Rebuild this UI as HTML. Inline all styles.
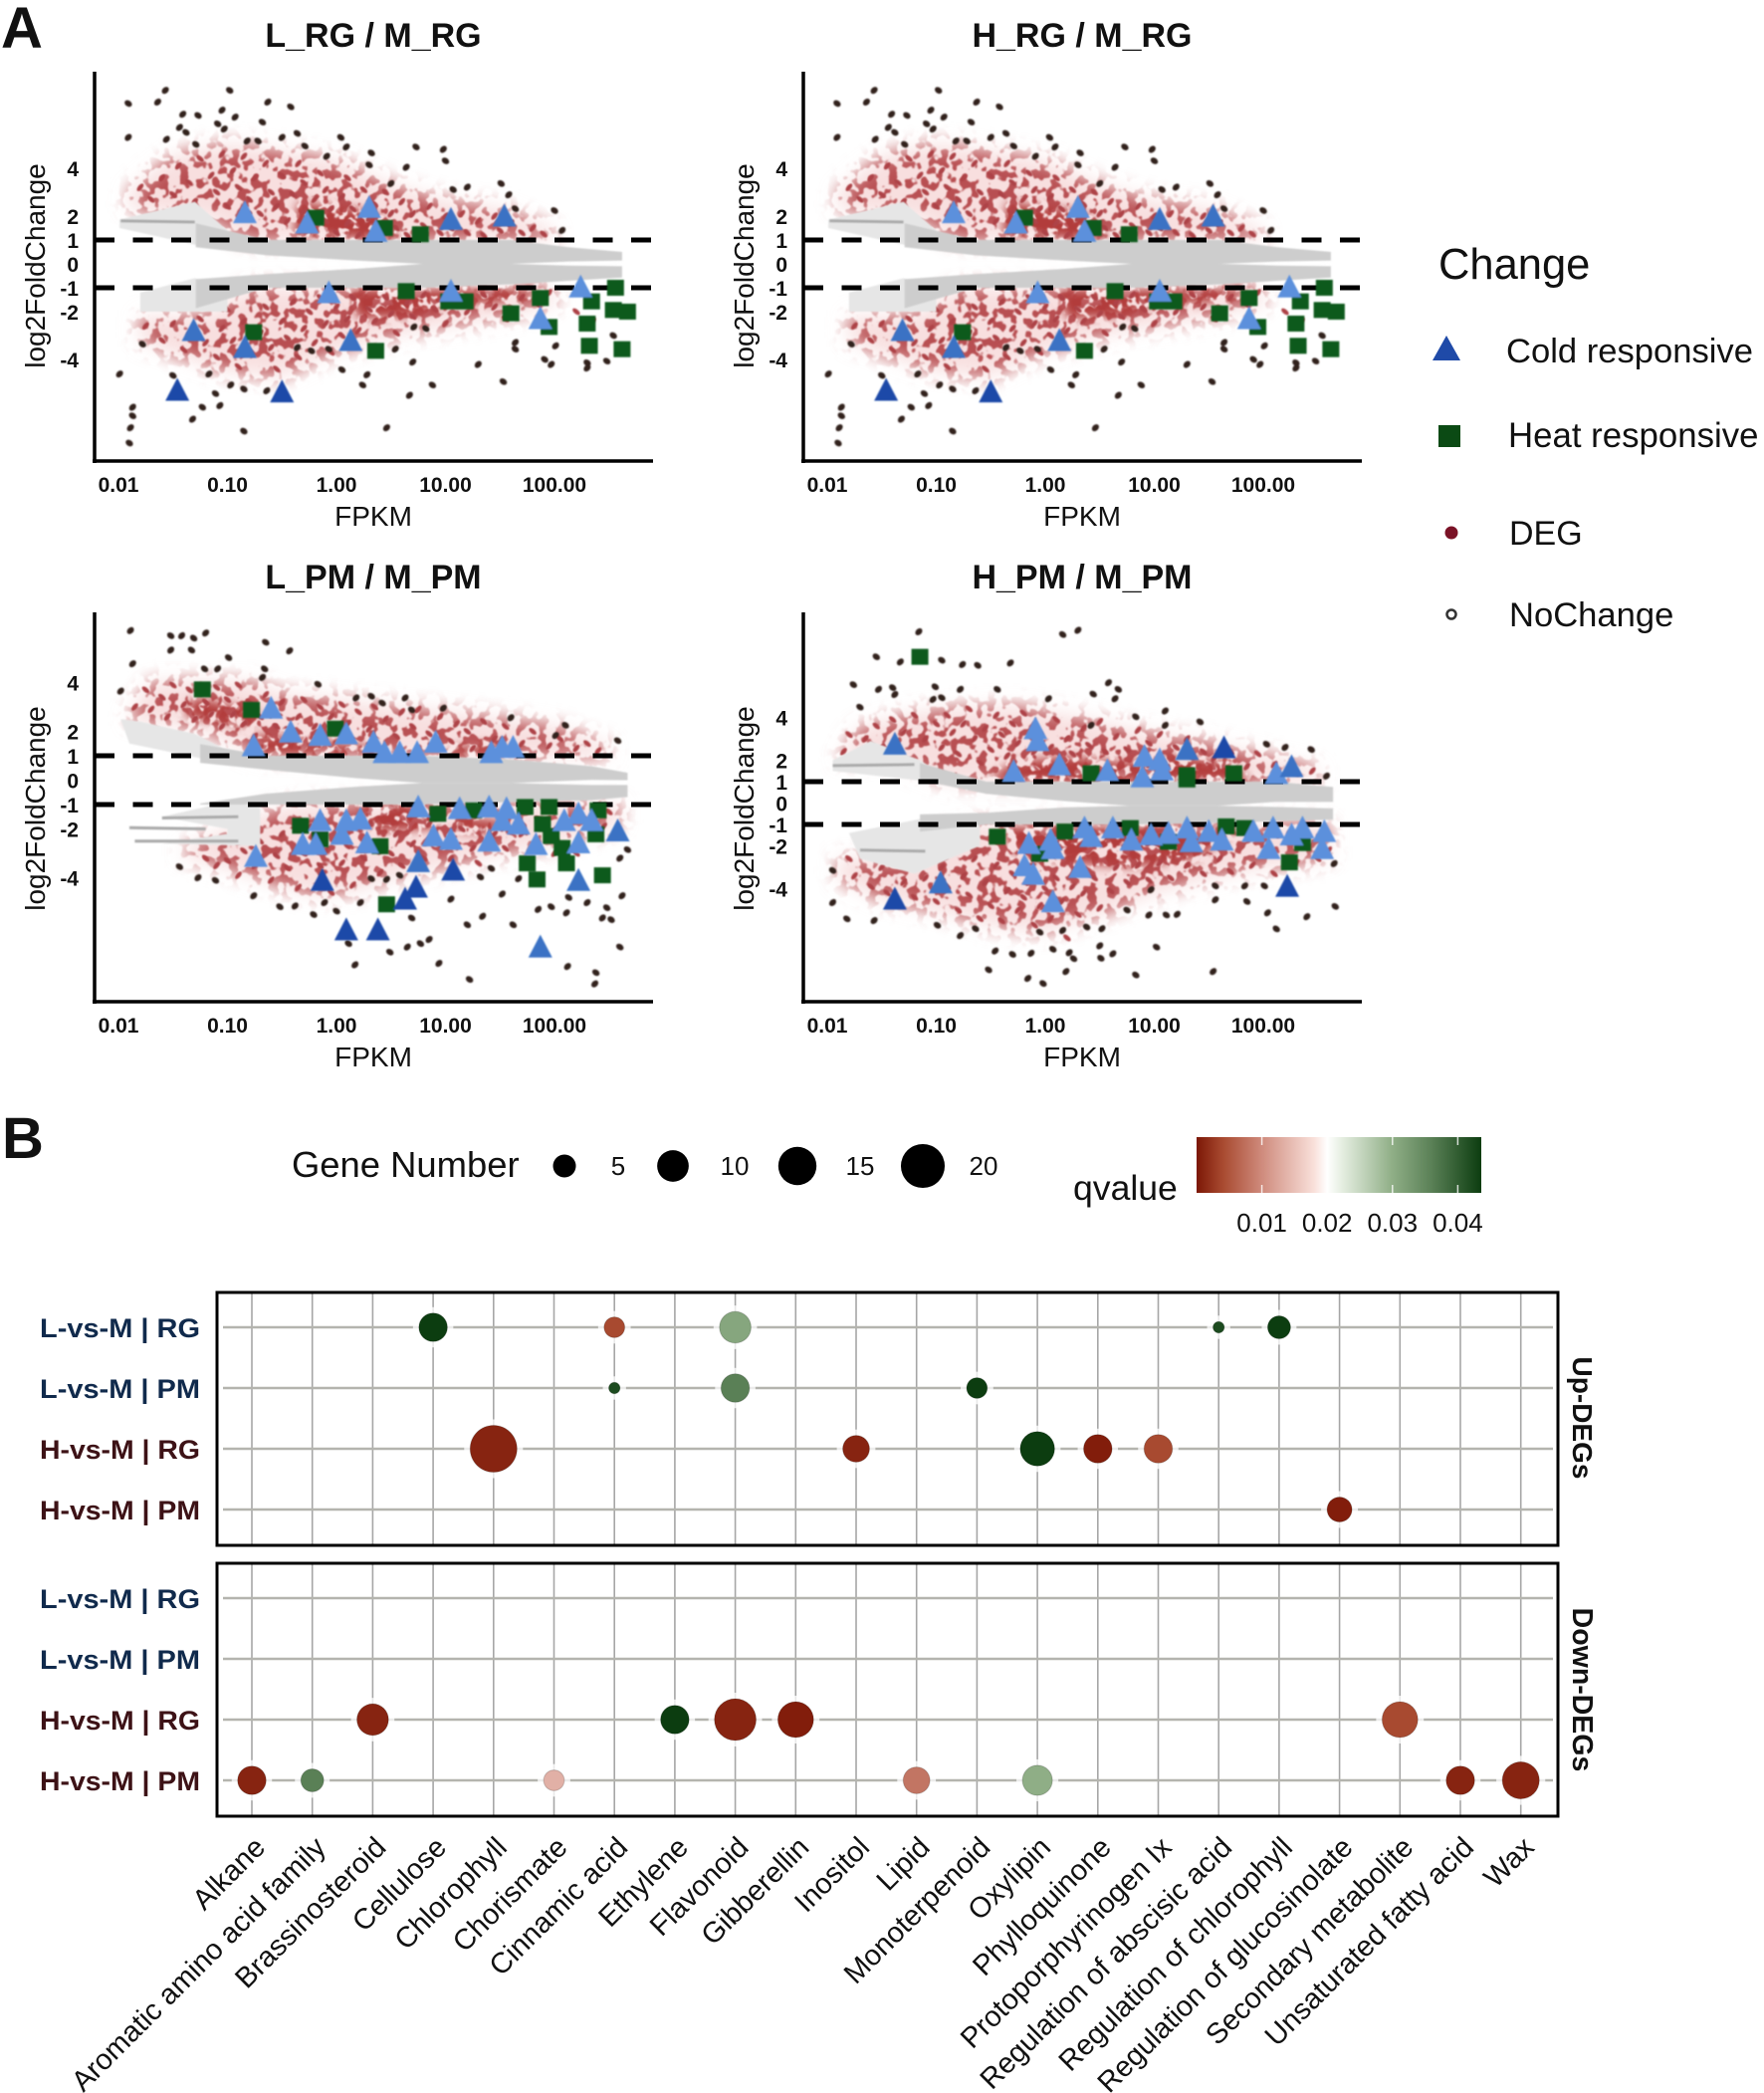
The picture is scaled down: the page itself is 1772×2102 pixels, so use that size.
<!DOCTYPE html>
<html lang="en">
<head>
<meta charset="utf-8">
<title>MA plots and pathway enrichment bubble chart</title>
<style>
html,body{margin:0;padding:0;background:#fff}
svg{display:block;font-family:"Liberation Sans",sans-serif}
text{fill:#111}
</style>
</head>
<body>
<svg id="fig" xmlns="http://www.w3.org/2000/svg" width="1772" height="2102" viewBox="0 0 1772 2102">
<defs>
<filter id="soft" filterUnits="userSpaceOnUse" x="0" y="0" width="1772" height="2102"><feGaussianBlur stdDeviation="0.8"/></filter>
<filter id="hazeBlur" x="-15%" y="-25%" width="130%" height="150%"><feGaussianBlur stdDeviation="9"/></filter>
<filter id="worms" color-interpolation-filters="sRGB" x="-10%" y="-20%" width="120%" height="140%">
<feTurbulence type="fractalNoise" baseFrequency="0.1" numOctaves="2" seed="7" result="n"/>
<feColorMatrix in="n" type="matrix" values="0 0 0 0 0  0 0 0 0 0  0 0 0 0 0  0 0 0 18 -9.3" result="mask"/>
<feGaussianBlur in="SourceGraphic" stdDeviation="10" result="fade"/>
<feComposite in="fade" in2="mask" operator="in" result="cut"/>
<feGaussianBlur in="cut" stdDeviation="0.9"/>
</filter>
<filter id="wormsDense" color-interpolation-filters="sRGB" x="-10%" y="-20%" width="120%" height="140%">
<feTurbulence type="fractalNoise" baseFrequency="0.1" numOctaves="2" seed="11" result="n"/>
<feColorMatrix in="n" type="matrix" values="0 0 0 0 0  0 0 0 0 0  0 0 0 0 0  0 0 0 18 -7.9" result="mask"/>
<feGaussianBlur in="SourceGraphic" stdDeviation="5" result="fade"/>
<feComposite in="fade" in2="mask" operator="in" result="cut"/>
<feGaussianBlur in="cut" stdDeviation="0.9"/>
</filter>
<linearGradient id="qGrad" x1="0" x2="1" y1="0" y2="0"></linearGradient>
</defs>
<rect width="1772" height="2102" fill="#fff"/>
<text x="1" y="48" font-size="58" font-weight="700">A</text>
<text x="2" y="1163" font-size="58" font-weight="700">B</text>

<g id="maPlots"></g>

<g font-size="34" font-weight="700" text-anchor="middle">
<text x="375" y="47">L_RG / M_RG</text>
<text x="1087" y="47">H_RG / M_RG</text>
<text x="375" y="591">L_PM / M_PM</text>
<text x="1087" y="591">H_PM / M_PM</text>
</g>
<g font-size="28" text-anchor="middle">
<text x="375" y="528">FPKM</text>
<text x="1087" y="528">FPKM</text>
<text x="375" y="1071">FPKM</text>
<text x="1087" y="1071">FPKM</text>
<text transform="translate(45 267) rotate(-90)">log2FoldChange</text>
<text transform="translate(757 267) rotate(-90)">log2FoldChange</text>
<text transform="translate(45 812) rotate(-90)">log2FoldChange</text>
<text transform="translate(757 812) rotate(-90)">log2FoldChange</text>
</g>

<g>
<text x="1445" y="280" font-size="43.5">Change</text>
<polygon points="1453,337 1467,362 1439,362" fill="#1f4aa8"/>
<text x="1513" y="364" font-size="34.6">Cold responsive</text>
<rect x="1445" y="427" width="22" height="22" fill="#0b4a14"/>
<text x="1515" y="449" font-size="34.8">Heat responsive</text>
<circle cx="1458" cy="535" r="6.5" fill="#7a1226"/>
<text x="1516" y="547" font-size="34">DEG</text>
<circle cx="1458" cy="617" r="4.5" fill="#fff" stroke="#333" stroke-width="2.5"/>
<text x="1516" y="629" font-size="34.6">NoChange</text>
</g>

<g>
<text x="293" y="1182" font-size="36.4">Gene Number</text>
<g id="sizeLegend" font-size="26" text-anchor="middle"></g>
</g>

<g>
<text x="1078" y="1205" font-size="35.6">qvalue</text>
<rect x="1202" y="1142" width="286" height="56" fill="url(#qGrad)"/>
<g id="qTicks" font-size="26" text-anchor="middle"></g>
</g>

<g id="bubbles"></g>

<text transform="translate(1580 1424) rotate(90)" font-size="28" font-weight="700" text-anchor="middle">Up-DEGs</text>
<text transform="translate(1580 1697) rotate(90)" font-size="28.5" font-weight="700" text-anchor="middle">Down-DEGs</text>
</svg>

<script>
/* ---------- MA plot axis labels ---------- */
const xTickLogs = [-2,-1,0,1,2];
const xTickLabels = ['0.01','0.10','1.00','10.00','100.00'];
const yTickValues = [4,2,1,0,-1,-2,-4];
const yTickLabels = ['4','2','1','0','-1','-2','-4'];
const thresholds = [1,-1];

/* ---------- data: [log10 FPKM, log2FC] ---------- */
/* RG panels */
const rgBandX = [-1.29,-0.64,0.18,0.79,1.6,2.13,2.62];
const rgUpTop = [1.7,1,1,1,1,0.7,0.5];
const rgUpBottom = [0.7,0.36,0.14,0,0,0.1,0.14];
const rgLowTop = [-0.64,-0.43,-0.21,0,0,-0.07,-0.1];
const rgLowBottom = [-1.86,-1,-1,-1,-0.86,-0.71,-0.57];
const rgWedges = [[[-1.99,1.85],[-1.3,2.6],[-1,1.4],[-1,1],[-1.3,0.8],[-1.99,1.5]],[[-1.8,-1.2],[-1.3,-0.6],[-1,-1],[-1,-2],[-1.3,-2],[-1.8,-2]]];
const rgStreaks = [[[-1.98,1.8],[-1.3,1.75]]];
const rgHaze = [[[-1.9,3],[-1.5,4.5],[-1,5],[-0.5,4.7],[0,4.3],[0.5,3.3],[1,2.6],[1.5,2.3],[2,1.4],[2,1],[-0.8,1],[-1.2,2],[-1.9,2.3]],[[-1.8,-3.2],[-1.4,-3.9],[-1,-4.5],[-0.5,-4.7],[-0.1,-3.8],[0.5,-3],[1,-2.6],[1.5,-2.2],[2,-1.7],[2,-1],[-0.8,-1],[-1.2,-2.2],[-1.8,-2.2]]];
const rgCore = [[[-0.4,1.2],[-0.35,2.6],[0,2.4],[0.35,2.2],[0.6,1]],[[0.1,-1.05],[1.9,-1.05],[1.7,-1.6],[1,-1.7],[0.7,-2.2],[0.2,-2.3]]];
const rgDegs = [[-1.8,3.2],[-1.7,2.7],[-1.6,3.6],[-1.5,2.9],[-1.45,4.1],[-1.35,3.4],[-1.3,2.6],[-1.25,4.4],[-1.15,3.7],[-1.1,3],[-1.05,4.6],[-1,2.4],[-0.95,3.9],[-0.9,3.2],[-0.85,4.5],[-0.8,2.7],[-0.75,3.6],[-0.7,2.1],[-0.65,4.2],[-0.6,3],[-0.55,2.4],[-0.5,3.7],[-0.45,1.8],[-0.4,2.9],[-0.35,4.2],[-0.3,3.4],[-0.3,2.2],[-0.25,1.5],[-0.2,2.7],[-0.15,3.8],[-0.1,3.1],[-0.1,1.8],[-0.05,2.3],[0,1.3],[0.05,2.8],[0.1,3.6],[0.1,1.7],[0.15,2.3],[0.2,1.2],[0.25,3.1],[0.3,1.9],[0.35,2.5],[0.4,1.3],[0.45,3],[0.5,2.1],[0.55,1.5],[0.6,2.6],[0.65,1.2],[0.7,2.1],[0.8,1.6],[0.85,2.4],[0.95,1.3],[1,2],[1.05,1.5],[1.15,2.1],[1.2,1.3],[1.3,1.8],[1.35,1.2],[1.45,2],[1.5,1.4],[1.6,1.7],[1.7,1.3],[1.8,1.5],[1.9,1.25],
[-1.75,-2.6],[-1.6,-3.2],[-1.5,-2.5],[-1.4,-3.6],[-1.35,-2.9],[-1.25,-2.3],[-1.2,-3.3],[-1.1,-3.9],[-1.05,-2.7],[-1,-1.9],[-0.95,-3.2],[-0.9,-4.3],[-0.85,-2.4],[-0.8,-3.7],[-0.7,-2.9],[-0.65,-1.8],[-0.6,-3.5],[-0.55,-4.4],[-0.5,-2.4],[-0.45,-3.1],[-0.4,-1.6],[-0.35,-3.9],[-0.3,-2.7],[-0.25,-2],[-0.2,-3.3],[-0.15,-1.4],[-0.1,-2.5],[-0.05,-3.7],[0,-1.8],[0.05,-3],[0.1,-2.3],[0.15,-1.4],[0.2,-2.8],[0.3,-1.9],[0.35,-2.4],[0.45,-1.4],[0.5,-2.1],[0.55,-2.9],[0.65,-1.6],[0.7,-2.2],[0.8,-1.3],[0.9,-1.9],[1,-2.5],[1.1,-1.5],[1.2,-2],[1.35,-1.3],[1.45,-1.8],[1.55,-2.3],[1.7,-1.4],[1.85,-1.7],[1.95,-1.2],[2.2,-2],[2.35,-2.4]];
const rgOutliers = [[-1.57,7.26],[-1.91,6.71],[-1.64,6.77],[-0.98,7.26],[-0.63,6.77],[-0.42,6.57],[-1.41,6.26],[-1.27,6.21],[-1.05,6.43],[-1.09,5.86],[-0.93,6.14],[-0.68,5.93],[-1.44,5.71],[-1.38,5.5],[-1.03,5.64],[-0.36,5.46],[-1.91,5.29],[0.04,5.29],[-1.56,5.21],[-1.29,5],[-0.82,5.14],[-0.72,5.14],[-0.5,5.29],[-0.29,4.93],[0.09,4.89],[0.73,4.89],[0.98,4.79],[1,4.31],[-0.09,4.5],[0.32,4.64],[0.64,4.04],[0.3,4.14],[0.5,3.36],[1.07,3.11],[1.2,3.21],[1.51,3.36],[1.58,2.89],[2,2.23],[2.07,1.4],[1.64,2.31],
[-1.99,-4.61],[-1.5,-4.67],[-1.17,-4.61],[-1.78,-3.36],[-1.87,-6],[-1.87,-6.36],[-1.89,-6.86],[-1.9,-7.5],[-0.97,-5.07],[-0.85,-5.24],[-0.64,-5.31],[-1.11,-5.43],[-1.07,-5.93],[-1.23,-6],[-1.32,-6.5],[-0.85,-7],[0.46,-6.86],[0.05,-4.43],[0.28,-4.64],[0.24,-5.07],[0.67,-5.5],[0.88,-5.07],[0.7,-4.11],[1.53,-4.93],[1.3,-4.21],[1.91,-4],[1.97,-4.21],[2.3,-4.14],[2.3,-4.36],[2.48,-4.07],[1.64,-3.29],[1.64,-3.57],[2.01,-3.43],[2.54,-3],[0.54,-3.57],[0.82,-2.71],[0.71,-2.64],[-0.23,-3.64],[-0.36,-3.5],[-0.07,-3.57]];
const rgHeat = [[-0.19,1.93],[0.44,1.5],[0.77,1.24],[0.64,-1.14],[1.87,-1.43],[2.56,-1],[2.34,-1.57],[1.03,-1.57],[1.18,-1.57],[1.6,-2.07],[1.95,-2.64],[2.54,-1.93],[2.67,-2],[2.3,-2.5],[2.32,-3.43],[2.62,-3.57],[0.36,-3.64],[-0.76,-2.86]];
const rgColdLight = [[-0.84,2.14],[-0.27,1.71],[0.3,2.36],[0.36,1.36],[-0.07,-1.21],[1.05,-1.14],[2.24,-0.97],[1.87,-2.29]];
const rgColdMid = [[1.05,1.86],[-1.31,-2.79],[-0.84,-3.5],[0.13,-3.21],[1.54,2]];
const rgColdDark = [[-1.46,-5.29],[-0.5,-5.36]];

/* L_PM panel */
const lpmBandX = [-1.25,-0.64,0.18,0.79,1.6,2.34,2.67];
const lpmUpTop = [1.48,1,1,1,0.85,0.57,0.3];
const lpmUpBottom = [0.71,0.43,0.08,-0.12,-0.12,0.01,0];
const lpmLowTop = [-0.96,-0.55,-0.27,-0.12,-0.12,-0.2,-0.2];
const lpmLowBottom = [-1,-1,-1,-1,-0.9,-0.83,-0.69];
const lpmWedges = [[[-1.98,2.5],[-1.8,2.4],[-1.3,1.9],[-0.9,1],[-1.25,0.9],[-1.9,1.5]],[[-1.6,-1.5],[-1,-0.9],[-0.7,-1.1],[-0.7,-2.7],[-1.6,-2.6],[-1,-2.2],[-1,-2]]];
const lpmStreaks = [[[-1.9,-1.95],[-1.2,-2]],[[-1.85,-2.5],[-0.9,-2.5]],[[-1.6,-1.55],[-0.9,-1.5]]];
const lpmHaze = [[[-1.9,2.6],[-1.7,4],[-1.2,4],[-0.8,4],[-0.5,3.5],[0,3.3],[0.5,3],[1,2.8],[1.5,2.5],[2,2.2],[2.5,1.4],[2.5,1],[-0.7,1],[-1.3,2.2],[-1.9,2.4]],[[-1.4,-3.1],[-1,-3.6],[-0.6,-4.2],[-0.2,-4.7],[0.2,-4.5],[0.5,-4],[1,-3.5],[1.5,-3],[2,-2.6],[2.6,-1.8],[2.6,-1],[-0.4,-1],[-0.8,-1.6],[-1.4,-2.8]]];
const lpmCore = [[[-0.75,1.9],[-0.3,1.7],[0.3,1.4],[0.5,1],[-0.7,1]],[[0.2,-1],[1,-1],[0.9,-2],[0.4,-2.1],[0.25,-1.6]],[[1.1,-1.5],[1.6,-1.7],[1.4,-2.2],[1.1,-2.1]],[[1,1],[1.6,1],[1.5,1.5],[1.1,1.4]],[[-1.4,2.6],[-0.8,2.2],[-0.7,2.8],[-1.3,3.4]]];
const lpmDegs = [[-1.85,3],[-1.75,3.7],[-1.7,2.9],[-1.6,3.4],[-1.55,2.6],[-1.5,3.9],[-1.4,3.1],[-1.35,3.7],[-1.3,2.5],[-1.2,3.2],[-1.15,2.7],[-1.1,3.8],[-1.05,2.2],[-1,3.3],[-0.95,2.7],[-0.9,3.9],[-0.85,2.3],[-0.8,3.2],[-0.75,1.8],[-0.7,2.6],[-0.65,3.5],[-0.55,2.2],[-0.5,3.2],[-0.45,1.6],[-0.35,2.6],[-0.3,3.3],[-0.2,2.2],[-0.15,3],[-0.05,2.6],[0.05,3.1],[0.1,2.3],[0.2,2.8],[0.3,2.1],[0.35,3],[0.45,2.5],[0.55,1.8],[0.6,2.8],[0.7,2.2],[0.75,2.9],[0.85,1.9],[0.95,2.6],[1.05,1.6],[1.1,2.3],[1.2,2],[1.25,1.3],[1.35,2.4],[1.45,1.7],[1.55,2.2],[1.7,1.5],[1.8,2],[1.95,1.4],[2.05,1.7],[2.2,1.3],[2.3,1.5],[2.4,1.2],
[-1.2,-3.2],[-1.1,-3.5],[-1,-3.3],[-0.9,-3.9],[-0.85,-2.9],[-0.75,-3.5],[-0.7,-2.5],[-0.6,-4.1],[-0.55,-3.1],[-0.5,-2.2],[-0.45,-3.6],[-0.35,-4.4],[-0.3,-3],[-0.25,-1.9],[-0.15,-3.5],[-0.1,-2.9],[-0.05,-4.6],[0.05,-3.4],[0.1,-2.7],[0.15,-4.3],[0.25,-3.2],[0.3,-1.8],[0.35,-2.6],[0.4,-3.8],[0.5,-3],[0.55,-2.2],[0.6,-3.5],[0.7,-2.6],[0.8,-3.2],[0.85,-1.8],[0.95,-2.7],[1.05,-3.2],[1.15,-2],[1.25,-2.8],[1.3,-3.4],[1.45,-2.2],[1.55,-2.8],[1.7,-2.2],[1.85,-1.6],[2,-3],[2.2,-3],[2.45,-1.9],[2.5,-1.3]];
const lpmOutliers = [[-1.89,6.13],[-1.52,5.92],[-1.42,5.92],[-1.31,5.82],[-1.2,6.03],[-0.65,5.65],[-0.43,5.3],[-1.33,5.33],[-1.52,5.33],[-0.99,5.02],[-1.87,4.77],[-0.66,4.56],[-1.09,4.56],[-1.21,4.56],[-0.68,4.21],[-0.17,3.93],[0.18,3.37],[0.32,3.44],[0.63,3.37],[0.42,3.16],[0.98,2.95],[0.69,2.88],[1.6,2.56],[2.1,2.25],[2.01,1.83],[2.58,1.62],[-1.98,3.65],
[-1.44,-3.55],[-1.27,-4],[-1.11,-4.11],[-0.76,-4.74],[-0.52,-5.19],[-0.38,-5.16],[-0.21,-5.51],[-0.11,-5.02],[0,-5.37],[0.22,-5.02],[0.32,-4.04],[0.46,-4.07],[0.58,-3.9],[1.05,-4.88],[1.32,-3.97],[1.52,-4.67],[1.42,-3.62],[1.67,-4.04],[1.2,-5.93],[1.34,-5.58],[1.62,-5.93],[1.85,-5.3],[1.97,-5.19],[2.11,-5.44],[2.13,-4.81],[2.3,-5.02],[2.48,-5.23],[2.44,-5.65],[2.52,-5.72],[2.62,-4.74],[2.67,-2.85],[2.6,-3.2],[0.11,-6.7],[0.17,-7.57],[0.49,-7.05],[0.65,-6.84],[0.77,-6.7],[0.85,-6.53],[0.69,-5.65],[0.94,-7.51],[1.22,-8.17],[2.12,-7.64],[2.38,-7.89],[2.37,-8.35],[2.6,-6.84]];
const lpmHeat = [[-1.23,3.72],[-0.78,2.88],[-0.01,2.11],[-0.33,-1.87],[-0.15,-2.43],[0.4,-2.71],[0.93,-1.38],[1.26,-1.24],[1.73,-1.1],[1.95,-1.1],[1.89,-1.8],[1.97,-2.29],[2.07,-2.78],[2.11,-3.41],[2.38,-2.22],[2.4,-1.24],[1.75,-3.41],[1.84,-4.07],[2.44,-3.9],[0.46,-5.09]];
const lpmColdLight = [[-0.6,2.95],[-0.42,1.97],[-0.15,1.83],[0.09,1.9],[0.34,1.55],[0.44,1.13],[0.58,1.13],[0.74,1.13],[0.91,1.55],[1.42,1.13],[1.52,1.34],[1.62,1.34],[-0.76,1.41],[0.75,-1.1],[1.13,-1.17],[1.4,-1.1],[1.56,-1.17],[-0.15,-1.66],[0.09,-1.66],[0.22,-1.6],[1.52,-1.66],[1.67,-1.8],[2.09,-1.66],[2.22,-1.38],[2.34,-1.66],[-0.31,-2.64],[-0.19,-2.64],[0.05,-2.22],[0.28,-2.57],[0.89,-2.29],[1.05,-2.43],[1.4,-2.5],[1.83,-2.64],[2.22,-2.57],[-0.74,-3.13]];
const lpmColdMid = [[2.58,-2.08],[2.22,-4.11],[0.75,-3.34],[1.87,-6.84]];
const lpmColdDark = [[-0.13,-4.11],[1.07,-3.69],[0.73,-4.39],[0.63,-4.88],[0.09,-6.14],[0.38,-6.14]];

/* H_PM panel */
const hpmBandX = [-1.15,-0.54,0.16,0.77,1.58,2.11,2.64];
const hpmUpTop = [1.87,1,1,1,1,1,0.75];
const hpmUpBottom = [1.07,0.43,0.1,-0.13,-0.13,0.05,0.05];
const hpmLowTop = [-0.53,-0.45,-0.21,-0.13,-0.13,-0.18,-0.25];
const hpmLowBottom = [-1.33,-1,-1,-1,-0.93,-0.85,-0.77];
const hpmWedges = [[[-1.95,2],[-1.6,2.9],[-1.15,2],[-0.9,1.2],[-1.15,1.05],[-1.95,1.5]],[[-1.8,-1.4],[-1.1,-0.7],[-0.6,-1],[-0.6,-2],[-1.2,-3.3],[-1.7,-2.6]]];
const hpmStreaks = [[[-1.95,1.75],[-1.2,1.8]],[[-1.7,-2.2],[-1.1,-2.25]]];
const hpmHaze = [[[-1.9,2],[-1.7,3.5],[-1.2,4.2],[-0.8,4.4],[-0.3,4.5],[0.3,4],[1,3.2],[1.5,2.8],[2,2.2],[2.5,1.6],[2.5,1],[-0.9,1],[-1.5,2.2]],[[-1.9,-3.5],[-1.5,-4.5],[-1,-5],[-0.5,-5.7],[0,-6],[0.5,-5.2],[1,-4.2],[1.5,-3.5],[2,-3],[2.6,-2.6],[2.6,-1],[-0.7,-1],[-1.2,-2.6],[-1.9,-2.6]]];
const hpmCore = [[[-0.55,1],[-0.3,1.9],[0.2,2.2],[0.7,1.9],[1.2,2.2],[1.7,1.9],[1.9,1]],[[-0.4,-1.1],[1.8,-1.1],[1.4,-2.6],[0.8,-3],[0.2,-2.8],[-0.3,-2.3]]];
const hpmDegs = [[-1.85,2.4],[-1.8,3.2],[-1.65,3],[-1.55,3.6],[-1.5,2.6],[-1.4,3.9],[-1.3,3.3],[-1.2,4.1],[-1.1,3],[-1,3.7],[-0.95,2.6],[-0.9,4.1],[-0.85,3.3],[-0.8,2.3],[-0.75,3.7],[-0.7,4.4],[-0.65,3],[-0.6,1.9],[-0.55,3.5],[-0.5,2.5],[-0.45,4.1],[-0.4,3.2],[-0.35,2.2],[-0.3,3.7],[-0.25,2.8],[-0.2,4.2],[-0.1,2.4],[-0.05,3.3],[0.05,2.6],[0.1,3.9],[0.2,3],[0.25,2.3],[0.35,3.5],[0.4,2.7],[0.5,3.8],[0.55,2.4],[0.65,3.1],[0.75,2.5],[0.85,3.4],[0.95,2.8],[1.05,3.2],[1.2,2.6],[1.3,3],[1.45,2.4],[1.55,2.1],[1.7,2.4],[1.85,1.7],[1.95,2.3],[2.1,1.8],[2.3,1.4],[2.45,1.5],
[-1.8,-2.6],[-1.75,-3.4],[-1.6,-3.9],[-1.5,-3],[-1.45,-4.2],[-1.3,-3.7],[-1.2,-4.4],[-1.1,-3.5],[-1,-4.6],[-0.95,-3],[-0.9,-3.9],[-0.85,-2.3],[-0.8,-5],[-0.75,-3.4],[-0.7,-4.3],[-0.65,-2.6],[-0.6,-5.4],[-0.55,-3.7],[-0.5,-4.8],[-0.45,-2.9],[-0.4,-5.5],[-0.35,-4.1],[-0.3,-3.3],[-0.25,-5],[-0.2,-4.4],[-0.15,-3.7],[-0.1,-5.7],[-0.05,-4.8],[0,-4],[0.05,-5.4],[0.1,-3.5],[0.15,-4.6],[0.2,-6.3],[0.25,-3.9],[0.3,-5.2],[0.35,-4.2],[0.45,-3.5],[0.5,-4.9],[0.6,-4.1],[0.65,-3],[0.75,-3.7],[0.85,-2.9],[0.95,-3.6],[1.05,-2.8],[1.15,-3.5],[1.3,-2.9],[1.45,-3.3],[1.6,-2.6],[1.7,-3.2],[1.9,-2.9],[2.1,-3.3],[2.3,-2.8],[2.5,-2.6],[2.6,-2.2]];
const hpmOutliers = [[-1.16,8],[0.16,7.87],[0.3,8.07],[-1.55,6.83],[-1.33,6.59],[-0.95,6.67],[-0.76,6.47],[-0.62,6.43],[-0.32,6.54],[-1.76,5.53],[-1.53,5.31],[-1.4,5.39],[-1.38,5.07],[-1.01,5.43],[-1.03,4.84],[-0.95,4.92],[-0.78,5.31],[-0.44,5.31],[0.03,4.87],[0.44,5.09],[0.58,5.62],[0.67,5.31],[0.64,4.87],[-1.7,4.48],[1.1,4.3],[0.83,4.03],[0.42,3.63],[1.42,3.79],[1.1,3.63],[2.03,2.75],[2.2,2.6],[2.44,2.5],[2.58,1.26],
[-1.95,-3.15],[-1.95,-4.65],[-1.82,-5.41],[-1.57,-5.49],[-0.99,-5.71],[-0.78,-6.19],[-0.64,-5.87],[-0.46,-6.91],[-0.3,-7.07],[-0.13,-7.02],[0.07,-6.83],[0.22,-6.99],[0.26,-7.27],[0.5,-6.67],[0.51,-7.25],[0.62,-7.04],[-0.52,-7.79],[-0.16,-8.19],[-0.02,-8.43],[0.19,-7.87],[0.83,-8.03],[1.54,-7.87],[1.02,-6.73],[0.95,-5.23],[1.11,-5.23],[1.21,-5.2],[0.75,-5],[0.52,-5.87],[0.38,-5.79],[0.16,-5.95],[-0.05,-6.03],[1.56,-4.52],[1.85,-4.6],[2.04,-5.13],[2.12,-5.88],[2.4,-5.31],[2.66,-4.83],[2.65,-2.83],[2.01,-3.87],[1.83,-3.87],[1.56,-3.87],[0.97,-4.05]];
const hpmHeat = [[-1.15,6.83],[0.42,1.39],[1.3,1.3],[1.3,1.1],[1.73,1.39],[-0.44,-1.57],[-0.05,-2.37],[0.18,-1.33],[0.78,-1.17],[1.13,-1.81],[1.66,-1.09],[1.83,-1.17],[2.36,-1.87],[2.24,-2.77]];
const hpmColdLight = [[-0.09,3.47],[-0.07,2.91],[-0.29,1.47],[0.13,1.78],[0.57,1.51],[0.91,2.18],[1.05,2.02],[0.89,1.22],[1.07,1.54],[2.12,1.38],[0.36,-1.17],[0.62,-1.17],[0.42,-1.57],[-0.15,-1.89],[0.05,-1.73],[0.07,-2.13],[0.79,-1.73],[0.97,-1.49],[1.13,-1.41],[1.3,-1.17],[1.34,-1.81],[1.5,-1.33],[1.62,-1.73],[1.91,-1.33],[2.09,-1.17],[2.05,-2.13],[2.26,-1.49],[2.36,-1.17],[2.56,-1.33],[2.54,-2.13],[-0.19,-2.93],[-0.11,-3.33],[0.32,-3.01],[0.07,-4.61]];
const hpmColdMid = [[-1.38,2.75],[1.3,2.5],[2.26,1.7],[-0.96,-3.73]];
const hpmColdDark = [[1.64,2.58],[-1.38,-4.49],[2.22,-3.89]];

/* ---------- bubble chart ---------- */
const categories = ['Alkane','Aromatic amino acid family','Brassinosteroid','Cellulose','Chlorophyll','Chorismate','Cinnamic acid','Ethylene','Flavonoid','Gibberellin','Inositol','Lipid','Monoterpenoid','Oxylipin','Phylloquinone','Protoporphyrinogen Ix','Regulation of abscisic acid','Regulation of chlorophyll','Regulation of glucosinolate','Secondary metabolite','Unsaturated fatty acid','Wax'];
const rowLabels = ['L-vs-M | RG','L-vs-M | PM','H-vs-M | RG','H-vs-M | PM'];
const upRows = [0,0,0,0,0,1,1,1,2,2,2,2,2,3];
const upCats = [3,6,8,16,17,6,8,12,4,10,13,14,15,18];
const upGenes = [8,4,10,1,5,1,8,4,23,7,12,8,8,6];
const upQvals = [0.044,0.004,0.031,0.042,0.044,0.042,0.036,0.044,0.001,0.001,0.044,0.0005,0.004,0.0005];
const downRows = [2,2,2,2,2,3,3,3,3,3,3,3];
const downCats = [2,7,8,9,19,0,1,5,11,13,20,21];
const downGenes = [10,8,18,13,13,8,5,4,7,9,8,14];
const downQvals = [0.001,0.044,0.001,0.0005,0.004,0.001,0.036,0.0135,0.008,0.03,0.001,0.001];
const sizeLegendGenes = [5,10,15,20];
const sizeLegendLabels = ['5','10','15','20'];
const qTickValues = [0.01,0.02,0.03,0.04];
const qTickLabels = ['0.01','0.02','0.03','0.04'];
const qStops = [0,0.004,0.01,0.018,0.02,0.022,0.03,0.036,0.0436];
const qStopColors = ['#7c1706','#a84a30','#cf8b7d','#f9e0da','#ffffff','#e8f0e4','#8fae86','#5a8056','#0c3d10'];

const NS = 'http://www.w3.org/2000/svg';
function mk(tag, attrs, parent){
  const el = document.createElementNS(NS, tag);
  for (const k in attrs) el.setAttribute(k, attrs[k]);
  parent.appendChild(el);
  return el;
}

function drawMA(root, cfg){
  const xs = l => cfg.ox + 338 + l * 109.5;
  const xLocal = l => 338 + l * 109.5;
  const ys = v => cfg.zero - v * cfg.unit;
  const pts = arr => arr.map(p => xs(p[0]).toFixed(1) + ',' + ys(p[1]).toFixed(1)).join(' ');
  const ptsLocal = arr => arr.map(p => xLocal(p[0]).toFixed(1) + ',' + ys(p[1]).toFixed(1)).join(' ');
  const g = mk('g', {}, root);
  
  

  const hazeLayer = mk('g', {filter:'url(#hazeBlur)'}, g);
  
  
  cfg.haze.forEach(h => {
    const el = mk('polygon', {points:pts(h), fill:'#f6d4d4', opacity:0.75}, hazeLayer);
    
    
  });
  const wormLayer = mk('g', {transform:'translate(' + cfg.ox + ' 0)', filter:'url(#worms)'}, g);
  
  
  cfg.haze.forEach(h => {
    const el = mk('polygon', {points:ptsLocal(h), fill:'#b84f52'}, wormLayer);
    
    
  });
  const denseLayer = mk('g', {transform:'translate(' + cfg.ox + ' 0)', filter:'url(#wormsDense)'}, g);
  
  
  cfg.core.forEach(c => {
    const el = mk('polygon', {points:ptsLocal(c), fill:'#b23c3b'}, denseLayer);
    
    
  });
  const pointLayer = mk('g', {filter:'url(#soft)'}, g);
  
  
  cfg.degs.forEach((p, i) => {
    const cx = xs(p[0]), cy = ys(p[1]);
    const el = mk('ellipse', {cx:cx, cy:cy, rx:4.5, ry:2.3, fill:'#ad4346', transform:'rotate(' + (i % 2 ? 40 : -50) + ' ' + cx + ' ' + cy + ')'}, pointLayer);
    
    
  });
  cfg.outliers.forEach((p, i) => {
    const cx = xs(p[0]), cy = ys(p[1]);
    const el = mk('ellipse', {cx:cx, cy:cy, rx:4, ry:3, fill:'#33201f', transform:'rotate(' + (i % 2 ? 35 : -45) + ' ' + cx + ' ' + cy + ')'}, pointLayer);
    
    
  });

  const soft = mk('g', {filter:'url(#soft)'}, g);
  
  
  cfg.wedges.forEach(w => {
    const el = mk('polygon', {points:pts(w), fill:'#e6e6e6'}, soft);
    
    
  });
  cfg.streaks.forEach(s => {
    const el = mk('polyline', {points:pts(s), fill:'none', stroke:'#a9a9a9', 'stroke-width':3}, soft);
    
    
  });
  [[cfg.upTop, cfg.upBottom, 'nochange-band-up'], [cfg.lowTop, cfg.lowBottom, 'nochange-band-down']].forEach(b => {
    const poly = cfg.bandX.map((x, i) => [x, b[0][i]]).concat(cfg.bandX.map((x, i) => [x, b[1][i]]).reverse());
    const el = mk('polygon', {points:pts(poly), fill:'#cdcdcd'}, soft);
    
    
  });

  thresholds.forEach(t => {
    const el = mk('line', {x1:cfg.ox+95, x2:cfg.ox+656, y1:ys(t), y2:ys(t), stroke:'#000', 'stroke-width':5, 'stroke-dasharray':'20 18.5'}, g);
    
    
  });
  const icons = mk('g', {filter:'url(#soft)'}, g);
  
  
  cfg.heat.forEach(p => {
    const el = mk('rect', {x:xs(p[0])-8.5, y:ys(p[1])-8, width:17, height:16, fill:'#0f5a1a'}, icons);
    
    
  });
  [[cfg.coldLight,'#5b90dc'],[cfg.coldMid,'#3a72c4'],[cfg.coldDark,'#1f4aa8']].forEach(s => {
    s[0].forEach(p => {
      const cx = xs(p[0]), cy = ys(p[1]);
      const el = mk('polygon', {points:cx+','+(cy-12.5)+' '+(cx+12)+','+(cy+10.5)+' '+(cx-12)+','+(cy+10.5), fill:s[1]}, icons);
      
      
    });
  });

  const yAxis = mk('line', {x1:cfg.ox+95, x2:cfg.ox+95, y1:cfg.top, y2:cfg.bottom+2, stroke:'#000', 'stroke-width':3.5}, g);
  
  
  const xAxis = mk('line', {x1:cfg.ox+93, x2:cfg.ox+656, y1:cfg.bottom, y2:cfg.bottom, stroke:'#000', 'stroke-width':3.5}, g);
  
  

  xTickLogs.forEach((l, i) => {
    const t = mk('text', {x:xs(l), y:cfg.bottom+31, 'font-size':21, 'font-weight':700, 'text-anchor':'middle'}, g);
    t.textContent = xTickLabels[i];
    
    
  });
  yTickValues.forEach((v, i) => {
    const t = mk('text', {x:cfg.ox+79, y:ys(v)+8, 'font-size':21, 'font-weight':700, 'text-anchor':'end'}, g);
    t.textContent = yTickLabels[i];
    
    
  });
}

const maRoot = document.getElementById('maPlots');
const rgSeries = {bandX:rgBandX, upTop:rgUpTop, upBottom:rgUpBottom, lowTop:rgLowTop, lowBottom:rgLowBottom, wedges:rgWedges, streaks:rgStreaks, haze:rgHaze, core:rgCore, degs:rgDegs, outliers:rgOutliers, heat:rgHeat, coldLight:rgColdLight, coldMid:rgColdMid, coldDark:rgColdDark};
drawMA(maRoot, Object.assign({id:'l-rg', ox:0, zero:265, unit:24, top:72, bottom:463}, rgSeries));
drawMA(maRoot, Object.assign({id:'h-rg', ox:712, zero:265, unit:24, top:72, bottom:463}, rgSeries));
drawMA(maRoot, {id:'l-pm', ox:0, zero:783.5, unit:24.5, top:615, bottom:1006, bandX:lpmBandX, upTop:lpmUpTop, upBottom:lpmUpBottom, lowTop:lpmLowTop, lowBottom:lpmLowBottom, wedges:lpmWedges, streaks:lpmStreaks, haze:lpmHaze, core:lpmCore, degs:lpmDegs, outliers:lpmOutliers, heat:lpmHeat, coldLight:lpmColdLight, coldMid:lpmColdMid, coldDark:lpmColdDark});
drawMA(maRoot, {id:'h-pm', ox:712, zero:806.5, unit:21.5, top:615, bottom:1006, bandX:hpmBandX, upTop:hpmUpTop, upBottom:hpmUpBottom, lowTop:hpmLowTop, lowBottom:hpmLowBottom, wedges:hpmWedges, streaks:hpmStreaks, haze:hpmHaze, core:hpmCore, degs:hpmDegs, outliers:hpmOutliers, heat:hpmHeat, coldLight:hpmColdLight, coldMid:hpmColdMid, coldDark:hpmColdDark});

/* ---------- bubble chart scales ---------- */
const catX = i => 253 + i * 60.7;
const radius = n => 1 + 4.7 * Math.sqrt(n);
const qBarX = q => 1202 + q / 0.0436 * 286;
function hexToRgb(h){ return [1,3,5].map(i => parseInt(h.substr(i,2),16)); }
function qColor(q){
  let i = 0;
  while (i < qStops.length - 2 && q > qStops[i+1]) i++;
  const t = Math.max(0, Math.min(1, (q - qStops[i]) / (qStops[i+1] - qStops[i])));
  const a = hexToRgb(qStopColors[i]), b = hexToRgb(qStopColors[i+1]);
  return 'rgb(' + a.map((c, k) => Math.round(c + (b[k] - c) * t)).join(',') + ')';
}

const grad = document.getElementById('qGrad');
qStops.forEach((q, i) => {
  mk('stop', {offset:(q / 0.0436), 'stop-color':qStopColors[i]}, grad);
});

const sizeRoot = document.getElementById('sizeLegend');
const sizeCx = [567,676,801,927];
const sizeTx = [621,738,864,988];
sizeLegendGenes.forEach((n, i) => {
  const c = mk('circle', {cx:sizeCx[i], cy:1171, r:radius(n), fill:'#000'}, sizeRoot);
  
  
  const t = mk('text', {x:sizeTx[i], y:1180}, sizeRoot);
  t.textContent = sizeLegendLabels[i];
  
  
});

const qRoot = document.getElementById('qTicks');
qTickValues.forEach((q, i) => {
  const x = qBarX(q);
  if (q !== 0.02) {
    [[1142,1150],[1190,1198]].forEach(s => {
      const l = mk('line', {x1:x, x2:x, y1:s[0], y2:s[1], stroke:'#fff', 'stroke-width':1.5, opacity:0.8}, qRoot);
      
      
    });
  }
  const t = mk('text', {x:x, y:1237}, qRoot);
  t.textContent = qTickLabels[i];
  
  
});

function drawFacet(root, name, top, bottom, rowY, rows, cats, genes, qvals){
  const g = mk('g', {}, root);
  
  
  categories.forEach((c, i) => {
    const l = mk('line', {x1:catX(i), x2:catX(i), y1:top, y2:bottom, stroke:'#a6a6a6', 'stroke-width':1.6}, g);
    
    
  });
  rowLabels.forEach((r, i) => {
    const y = rowY + i * 61;
    const l = mk('line', {x1:224, x2:1560, y1:y, y2:y, stroke:'#b4b4ae', 'stroke-width':2.6}, g);
    
    
    const t = mk('text', {x:201, y:y+10, 'font-size':27, 'font-weight':700, 'text-anchor':'end', textLength:161, lengthAdjust:'spacingAndGlyphs', style:'fill:' + (i < 2 ? '#102a4c' : '#3d1216')}, g);
    t.textContent = r;
    
    
  });
  rows.forEach((r, i) => {
    const cx = catX(cats[i]), cy = rowY + r * 61, rad = radius(genes[i]);
    const halo = mk('circle', {cx:cx, cy:cy, r:rad+6, fill:'#fff', opacity:0.75}, g);
    
    
    const b = mk('circle', {cx:cx, cy:cy, r:rad, fill:qColor(qvals[i]), stroke:'rgba(0,0,0,0.15)', 'stroke-width':1.2}, g);
    
    
  });
  const box = mk('rect', {x:218, y:top, width:1347, height:bottom-top, fill:'none', stroke:'#000', 'stroke-width':3}, g);
  
  
}
const bubbleRoot = document.getElementById('bubbles');
drawFacet(bubbleRoot, 'up-degs-facet', 1298, 1552, 1333, upRows, upCats, upGenes, upQvals);
drawFacet(bubbleRoot, 'down-degs-facet', 1570, 1824, 1605, downRows, downCats, downGenes, downQvals);

categories.forEach((c, i) => {
  const x = catX(i) + 15, y = 1857;
  const t = mk('text', {x:x, y:y, 'font-size':29, 'text-anchor':'end', transform:'rotate(-45 ' + x + ' ' + y + ')'}, bubbleRoot);
  t.textContent = c;
  
  
});
</script>
</body>
</html>
